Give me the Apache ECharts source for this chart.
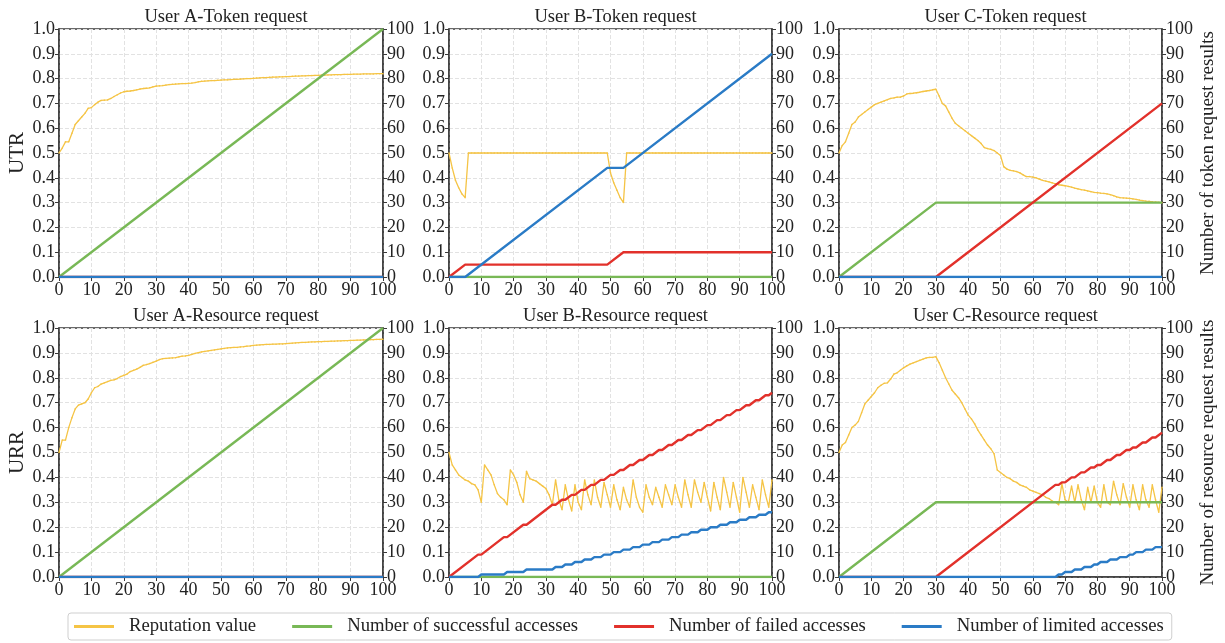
<!DOCTYPE html>
<html><head><meta charset="utf-8">
<script src="https://cdn.jsdelivr.net/npm/echarts@6/dist/echarts.min.js"></script>
<style>html,body{margin:0;padding:0;background:#fff}#c{width:1225px;height:643px}</style>
</head><body><div id="c"></div>
<script>
// ---------- DATA ----------
var panelTitles = ['User A-Token request','User B-Token request','User C-Token request',
                   'User A-Resource request','User B-Resource request','User C-Resource request'];
var seriesNames = ['Reputation value','Number of successful accesses','Number of failed accesses','Number of limited accesses'];
var xTicks = [0,10,20,30,40,50,60,70,80,90,100];

// Reputation values at x = 0..100 (left axis)
var repA_T = [0.50,0.52,0.545,0.545,0.58,0.615,0.63,0.645,0.66,0.68,0.683,0.695,0.705,0.712,0.713,0.714,0.72,0.728,0.735,0.742,
0.747,0.749,0.750,0.752,0.755,0.758,0.76,0.761,0.763,0.767,0.77,0.771,0.772,0.774,0.776,0.777,0.778,0.779,0.78,0.78,
0.781,0.782,0.784,0.787,0.789,0.79,0.791,0.792,0.792,0.793,0.794,0.795,0.795,0.796,0.797,0.797,0.798,0.799,0.80,0.80,
0.801,0.802,0.803,0.804,0.804,0.805,0.806,0.806,0.807,0.807,0.808,0.808,0.809,0.81,0.81,0.811,0.811,0.812,0.812,0.813,
0.813,0.814,0.814,0.815,0.815,0.816,0.816,0.816,0.817,0.817,0.817,0.818,0.818,0.818,0.819,0.819,0.819,0.819,0.82,0.82,0.82];
var repB_T = [0.50,0.44,0.39,0.36,0.335,0.32,0.50,0.50,0.50,0.50,0.50,0.50,0.50,0.50,0.50,0.50,0.50,0.50,0.50,0.50,
0.50,0.50,0.50,0.50,0.50,0.50,0.50,0.50,0.50,0.50,0.50,0.50,0.50,0.50,0.50,0.50,0.50,0.50,0.50,0.50,
0.50,0.50,0.50,0.50,0.50,0.50,0.50,0.50,0.50,0.50,0.42,0.38,0.35,0.32,0.30,0.50,0.50,0.50,0.50,0.50,
0.50,0.50,0.50,0.50,0.50,0.50,0.50,0.50,0.50,0.50,0.50,0.50,0.50,0.50,0.50,0.50,0.50,0.50,0.50,0.50,
0.50,0.50,0.50,0.50,0.50,0.50,0.50,0.50,0.50,0.50,0.50,0.50,0.50,0.50,0.50,0.50,0.50,0.50,0.50,0.50,0.50];
var repC_T = [0.50,0.53,0.545,0.58,0.615,0.625,0.645,0.655,0.665,0.675,0.685,0.695,0.70,0.705,0.71,0.715,0.72,0.722,0.725,0.725,
0.73,0.738,0.74,0.741,0.743,0.745,0.748,0.75,0.752,0.755,0.757,0.73,0.70,0.69,0.665,0.64,0.62,0.61,0.60,0.59,
0.58,0.57,0.56,0.55,0.538,0.522,0.518,0.515,0.51,0.50,0.49,0.445,0.435,0.43,0.428,0.425,0.42,0.412,0.405,0.405,
0.403,0.40,0.395,0.39,0.387,0.384,0.38,0.376,0.372,0.37,0.368,0.365,0.362,0.358,0.355,0.352,0.35,0.347,0.344,0.341,
0.34,0.338,0.337,0.335,0.332,0.328,0.323,0.32,0.319,0.318,0.317,0.315,0.313,0.31,0.308,0.306,0.305,0.303,0.302,0.301,0.30];
var repA_R = [0.50,0.55,0.55,0.60,0.64,0.675,0.69,0.695,0.70,0.715,0.74,0.76,0.765,0.775,0.78,0.785,0.79,0.792,0.797,0.805,
0.81,0.815,0.825,0.83,0.835,0.842,0.85,0.853,0.857,0.862,0.867,0.873,0.877,0.878,0.879,0.88,0.881,0.884,0.887,0.888,
0.89,0.894,0.898,0.901,0.904,0.906,0.908,0.91,0.912,0.914,0.916,0.918,0.92,0.921,0.922,0.922,0.924,0.925,0.927,0.928,
0.93,0.931,0.932,0.933,0.934,0.934,0.935,0.935,0.936,0.936,0.937,0.938,0.939,0.94,0.941,0.942,0.942,0.943,0.944,0.944,
0.945,0.945,0.946,0.946,0.947,0.947,0.948,0.948,0.949,0.949,0.95,0.95,0.951,0.951,0.952,0.952,0.953,0.953,0.954,0.954,0.955];
var repB_R = [0.50,0.45,0.43,0.41,0.40,0.39,0.385,0.375,0.37,0.35,0.30,0.45,0.43,0.41,0.37,0.335,0.32,0.31,0.29,0.43,
0.41,0.38,0.33,0.30,0.425,0.395,0.39,0.385,0.375,0.365,0.355,0.33,0.29,0.39,0.31,0.27,0.37,0.31,0.265,0.37,
0.30,0.27,0.39,0.33,0.29,0.39,0.32,0.28,0.38,0.33,0.28,0.37,0.31,0.27,0.36,0.31,0.28,0.39,0.32,0.28,
0.26,0.37,0.32,0.29,0.36,0.32,0.28,0.37,0.33,0.29,0.37,0.32,0.28,0.39,0.33,0.28,0.39,0.34,0.30,0.38,
0.32,0.265,0.38,0.32,0.27,0.40,0.34,0.28,0.38,0.32,0.26,0.40,0.34,0.28,0.37,0.32,0.27,0.39,0.33,0.28,0.39];
var repC_R = [0.50,0.53,0.54,0.57,0.60,0.61,0.625,0.66,0.695,0.71,0.725,0.74,0.76,0.77,0.778,0.78,0.795,0.815,0.82,0.83,
0.84,0.848,0.855,0.86,0.865,0.87,0.875,0.88,0.882,0.882,0.885,0.86,0.83,0.80,0.775,0.75,0.735,0.72,0.70,0.675,
0.65,0.635,0.615,0.59,0.57,0.55,0.53,0.515,0.495,0.43,0.42,0.41,0.40,0.395,0.385,0.38,0.37,0.365,0.36,0.35,
0.345,0.34,0.335,0.33,0.32,0.315,0.305,0.30,0.29,0.375,0.31,0.30,0.365,0.30,0.37,0.31,0.27,0.36,0.30,0.365,
0.30,0.28,0.37,0.30,0.29,0.385,0.33,0.29,0.375,0.32,0.28,0.37,0.31,0.27,0.37,0.31,0.28,0.37,0.31,0.26,0.36];

// Access counts as [x, count] breakpoints (right axis)
var succA_T = [[0,0],[100,100]];
var failA_T = [[0,0],[100,0]];
var limA_T  = [[0,0],[100,0]];
var succB_T = [[0,0],[100,0]];
var failB_T = [[0,0],[5,5],[49,5],[54,10],[100,10]];
var limB_T  = [[0,0],[5,0],[49,44],[54,44],[100,90]];
var succC_T = [[0,0],[30,30],[100,30]];
var failC_T = [[0,0],[30,0],[100,70]];
var limC_T  = [[0,0],[100,0]];
var succA_R = [[0,0],[100,100]];
var failA_R = [[0,0],[100,0]];
var limA_R  = [[0,0],[100,0]];
var succB_R = [[0,0],[100,0]];
var failB_R = [[0,0],[9,9],[10,9],[17,16],[18,16],[23,21],[24,21],[32,29],[33,29],[35,31],[36,31],[38,33],[39,33],[41,35],[42,35],[44,37],[45,37],[47,39],[48,39],[50,41],[51,41],[53,43],[54,43],[56,45],[57,45],[59,47],[60,47],[62,49],[63,49],[65,51],[66,51],[68,53],[69,53],[71,55],[72,55],[74,57],[75,57],[77,59],[78,59],[80,61],[81,61],[83,63],[84,63],[86,65],[87,65],[89,67],[90,67],[92,69],[93,69],[95,71],[96,71],[98,73],[99,73],[100,74]];
var limB_R  = [[0,0],[9,0],[10,1],[17,1],[18,2],[23,2],[24,3],[32,3],[33,4],[35,4],[36,5],[38,5],[39,6],[41,6],[42,7],[44,7],[45,8],[47,8],[48,9],[50,9],[51,10],[53,10],[54,11],[56,11],[57,12],[59,12],[60,13],[62,13],[63,14],[65,14],[66,15],[68,15],[69,16],[71,16],[72,17],[74,17],[75,18],[77,18],[78,19],[80,19],[81,20],[83,20],[84,21],[86,21],[87,22],[89,22],[90,23],[92,23],[93,24],[95,24],[96,25],[98,25],[99,26],[100,26]];
var succC_R = [[0,0],[30,30],[100,30]];
var failC_R = [[0,0],[30,0],[67,37],[68,37],[69,38],[70,38],[72,40],[73,40],[75,42],[76,42],[78,44],[79,44],[80,45],[81,45],[83,47],[84,47],[86,49],[87,49],[89,51],[90,51],[91,52],[92,52],[94,54],[95,54],[97,56],[98,56],[100,58]];
var limC_R  = [[0,0],[67,0],[68,1],[69,1],[70,2],[72,2],[73,3],[75,3],[76,4],[78,4],[79,5],[80,5],[81,6],[83,6],[84,7],[86,7],[87,8],[89,8],[90,9],[91,9],[92,10],[94,10],[95,11],[97,11],[98,12],[100,12]];

var repAll  = [repA_T, repB_T, repC_T, repA_R, repB_R, repC_R];
var succAll = [succA_T, succB_T, succC_T, succA_R, succB_R, succC_R];
var failAll = [failA_T, failB_T, failC_T, failA_R, failB_R, failC_R];
var limAll  = [limA_T, limB_T, limC_T, limA_R, limB_R, limC_R];

// ---------- LAYOUT / STYLE ----------
var FONT = 'Liberation Serif';
var colors = ['#F5C445', '#78B856', '#E2312B', '#2A7BC6'];
var gridPos = [
  {left:59, top:29, width:324, height:248},
  {left:449, top:29, width:323, height:248},
  {left:839, top:29, width:323, height:248},
  {left:59, top:328, width:324, height:249},
  {left:449, top:328, width:323, height:249},
  {left:839, top:328, width:323, height:249}
];
var grids=[], xAxes=[], yAxes=[], series=[], titles=[];
var axisLine = {show:true, lineStyle:{color:'#3a3a3a', width:1.5}};
var tick = {show:true, inside:false, length:4, lineStyle:{color:'#3a3a3a'}};
var lab = {color:'#222', fontFamily:FONT, fontSize:18};
var split = {show:true, lineStyle:{color:'#e2e2e2', type:'dashed', width:1}};
for (var i=0;i<6;i++){
  var g = gridPos[i];
  grids.push({left:g.left, top:g.top, width:g.width, height:g.height, show:true, borderColor:'#3a3a3a', borderWidth:1.5, backgroundColor:'#fff', containLabel:false});
  titles.push({text:panelTitles[i], left:g.left+g.width/2, top:g.top-26, textAlign:'center',
    textStyle:{fontFamily:FONT, fontSize:18.5, fontWeight:'normal', color:'#222'}});
  xAxes.push({type:'value', gridIndex:i, min:xTicks[0], max:xTicks[xTicks.length-1], interval:10,
    axisLine:axisLine, axisTick:tick, axisLabel:Object.assign({margin:4}, lab), splitLine:split});
  var yl = {type:'value', gridIndex:i, position:'left', min:0, max:1, interval:0.1,
    axisLine:axisLine, axisTick:tick, axisLabel:Object.assign({margin:4, formatter:function(v){return v.toFixed(1);}}, lab), splitLine:split};
  if (i===0) { yl.name='UTR'; }
  if (i===3) { yl.name='URR'; }
  if (yl.name){ yl.nameLocation='middle'; yl.nameGap=31; yl.nameRotate=90; yl.nameTextStyle={fontFamily:FONT, fontSize:21, color:'#222'}; }
  var yr = {type:'value', gridIndex:i, position:'right', min:0, max:100, interval:10,
    axisLine:axisLine, axisTick:tick, axisLabel:Object.assign({margin:4}, lab), splitLine:{show:false}};
  if (i===2) yr.name='Number of token request results';
  if (i===5) yr.name='Number of resource request results';
  if (yr.name){ yr.nameLocation='middle'; yr.nameGap=37; yr.nameRotate=90; yr.nameTextStyle={fontFamily:FONT, fontSize:19, color:'#222'}; }
  yAxes.push(yl); yAxes.push(yr);
  series.push({name:seriesNames[0], type:'line', xAxisIndex:i, yAxisIndex:2*i,
    data: repAll[i].map(function(v,k){return [k,v];}), symbol:'circle', symbolSize:1.5, showSymbol:true,
    lineStyle:{color:colors[0], width:1.3}, itemStyle:{color:colors[0]}, z:2, animation:false});
  series.push({name:seriesNames[1], type:'line', xAxisIndex:i, yAxisIndex:2*i+1, data:succAll[i], symbol:'none',
    lineStyle:{color:colors[1], width:2.4}, itemStyle:{color:colors[1]}, z:3, animation:false});
  series.push({name:seriesNames[2], type:'line', xAxisIndex:i, yAxisIndex:2*i+1, data:failAll[i], symbol:'none',
    lineStyle:{color:colors[2], width:2.4}, itemStyle:{color:colors[2]}, z:4, animation:false});
  series.push({name:seriesNames[3], type:'line', xAxisIndex:i, yAxisIndex:2*i+1, data:limAll[i], symbol:'none',
    lineStyle:{color:colors[3], width:2.4}, itemStyle:{color:colors[3]}, z:5, animation:false});
}
var chart = echarts.init(document.getElementById('c'), null, {renderer:'canvas'});
chart.setOption({
  animation:false,
  backgroundColor:'#fff',
  title:titles,
  grid:grids, xAxis:xAxes, yAxis:yAxes, series:series,
  legend:{data:seriesNames.map(function(n,k){return {name:n, icon:'rect', itemStyle:{color:colors[k]}};}),
    left:68, top:613, width:1140, itemWidth:40, itemHeight:3, itemGap:36, padding:[4,8,4,6],
    borderColor:'#cfcfcf', borderWidth:1, borderRadius:3,
    textStyle:{fontFamily:FONT, fontSize:18.7, color:'#222', padding:[0,0,0,10]}}
});
</script></body></html>
